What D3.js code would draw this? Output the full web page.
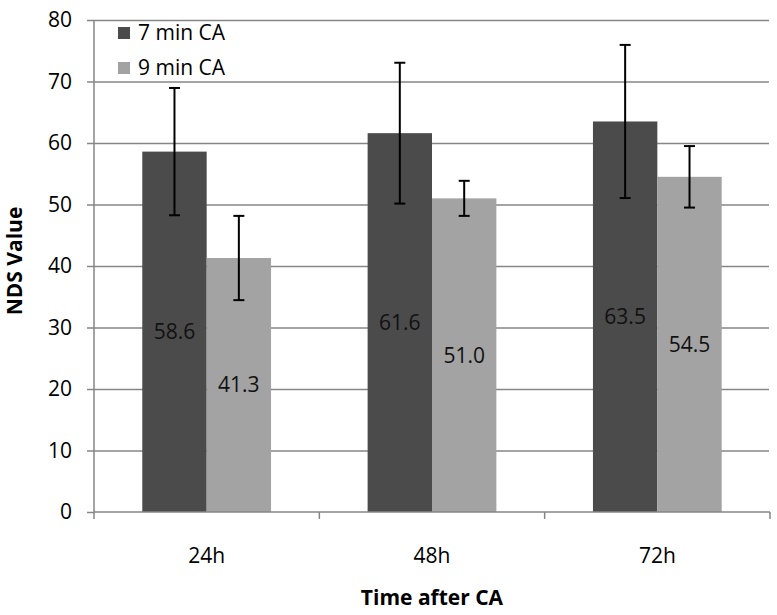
<!DOCTYPE html>
<html>
<head>
<meta charset="utf-8">
<script src="https://cdn.jsdelivr.net/npm/d3@7"></script>
<style>
  body { margin: 0; background: #fff; }
  text { font-family: 'Open Sans', sans-serif; }
  .grid line { stroke: #868686; stroke-width: 1.5; }
  .grid path { display: none; }
  .axis path, .axis line { stroke: #868686; stroke-width: 1.5; }
  .axis text { font-size: 21px; fill: #000; }
</style>
</head>
<body>
<script>
// data
const categories = ['24h', '48h', '72h'];
const seriesNames = ['7 min CA', '9 min CA'];
const values7 = [58.6, 61.6, 63.5];
const values9 = [41.3, 51.0, 54.5];
const err7 = [10.35, 11.45, 12.45];
const err9 = [6.85, 2.85, 5.0];
const yTicks = [0, 10, 20, 30, 40, 50, 60, 70, 80];

const colors = ['#4b4b4b', '#a3a3a3'];

const width = 777;
const height = 615;
const margin = { top: 20, right: 7, bottom: 103, left: 94 };
const innerW = width - margin.left - margin.right;
const innerH = height - margin.top - margin.bottom;

const rows = categories.map((c, i) => ({
  cat: c,
  bars: [
    { key: seriesNames[0], value: values7[i], err: err7[i] },
    { key: seriesNames[1], value: values9[i], err: err9[i] }
  ]
}));

const svg = d3.select('body')
  .append('svg')
  .attr('width', width)
  .attr('height', height)
  .append('g')
  .attr('transform', `translate(${margin.left},${margin.top})`);

// scales
const x0 = d3.scaleBand().domain(categories).range([0, innerW]).padding(0);
const x1 = d3.scaleBand().domain(seriesNames).range([0, x0.bandwidth()])
  .paddingInner(0).paddingOuter(0.75);
const y = d3.scaleLinear().domain([0, 80]).range([innerH, 0]);
const color = d3.scaleOrdinal().domain(seriesNames).range(colors);

// gridlines
svg.append('g')
  .attr('class', 'grid')
  .call(d3.axisLeft(y).tickValues(yTicks.slice(1)).tickSize(-(innerW - 1)).tickFormat(''));

// bars
const groups = svg.selectAll('.group')
  .data(rows)
  .enter()
  .append('g')
  .attr('class', 'group')
  .attr('transform', (d) => `translate(${x0(d.cat)},0)`);

groups.selectAll('rect')
  .data((d) => d.bars)
  .enter()
  .append('rect')
  .attr('x', (d) => x1(d.key))
  .attr('y', (d) => y(d.value))
  .attr('width', x1.bandwidth())
  .attr('height', (d) => y(0) - y(d.value))
  .attr('fill', (d) => color(d.key));

// value labels in the middle of each bar
groups.selectAll('.val')
  .data((d) => d.bars)
  .enter()
  .append('text')
  .attr('class', 'val')
  .attr('x', (d) => x1(d.key) + x1.bandwidth() / 2)
  .attr('y', (d) => y(d.value / 2))
  .attr('dy', '0.35em')
  .attr('text-anchor', 'middle')
  .style('font-size', '21px')
  .attr('fill', '#111')
  .text((d) => d3.format('.1f')(d.value));

// error bars
const cap = 5.5;
const eb = groups.selectAll('.err')
  .data((d) => d.bars)
  .enter()
  .append('g')
  .attr('class', 'err')
  .attr('stroke', '#000')
  .attr('stroke-width', 2);

eb.append('line')
  .attr('x1', (d) => x1(d.key) + x1.bandwidth() / 2)
  .attr('x2', (d) => x1(d.key) + x1.bandwidth() / 2)
  .attr('y1', (d) => y(d.value + d.err))
  .attr('y2', (d) => y(d.value - d.err));

eb.append('line')
  .attr('x1', (d) => x1(d.key) + x1.bandwidth() / 2 - cap)
  .attr('x2', (d) => x1(d.key) + x1.bandwidth() / 2 + cap)
  .attr('y1', (d) => y(d.value + d.err))
  .attr('y2', (d) => y(d.value + d.err));

eb.append('line')
  .attr('x1', (d) => x1(d.key) + x1.bandwidth() / 2 - cap)
  .attr('x2', (d) => x1(d.key) + x1.bandwidth() / 2 + cap)
  .attr('y1', (d) => y(d.value - d.err))
  .attr('y2', (d) => y(d.value - d.err));

// y axis
const yAxis = svg.append('g')
  .attr('class', 'axis')
  .call(d3.axisLeft(y).tickValues(yTicks).tickSize(7).tickSizeOuter(0).tickPadding(15));
yAxis.select('.domain').attr('d', `M0,${innerH}V0`);

// x axis, ticks sit on the band edges
const xAxis = svg.append('g')
  .attr('class', 'axis')
  .attr('transform', `translate(0,${innerH})`)
  .call(d3.axisBottom(x0).tickSize(0).tickPadding(36));
xAxis.select('.domain').attr('d', `M0,0H${innerW}`);
xAxis.selectAll('.edge')
  .data([0, ...categories.map((c) => x0(c) + x0.bandwidth())])
  .enter()
  .append('line')
  .attr('class', 'edge')
  .attr('x1', (d) => d)
  .attr('x2', (d) => d)
  .attr('y1', 0)
  .attr('y2', 7);

// axis titles
svg.append('text')
  .attr('x', innerW / 2)
  .attr('y', innerH + 93)
  .attr('text-anchor', 'middle')
  .style('font-size', '21px')
  .style('font-weight', 'bold')
  .text('Time after CA');

svg.append('text')
  .attr('transform', `translate(${-margin.left + 22},${innerH / 2 - 5}) rotate(-90)`)
  .attr('text-anchor', 'middle')
  .style('font-size', '21px')
  .style('font-weight', 'bold')
  .text('NDS Value');

// legend
const legend = svg.selectAll('.legend')
  .data(seriesNames)
  .enter()
  .append('g')
  .attr('class', 'legend')
  .attr('transform', (d, i) => `translate(24,${7 + i * 35})`);

legend.append('rect')
  .attr('width', 12)
  .attr('height', 12)
  .attr('fill', (d) => color(d));

legend.append('text')
  .attr('x', 20)
  .attr('y', 6)
  .attr('dy', '0.35em')
  .style('font-size', '21px')
  .text((d) => d);
</script>
</body>
</html>
